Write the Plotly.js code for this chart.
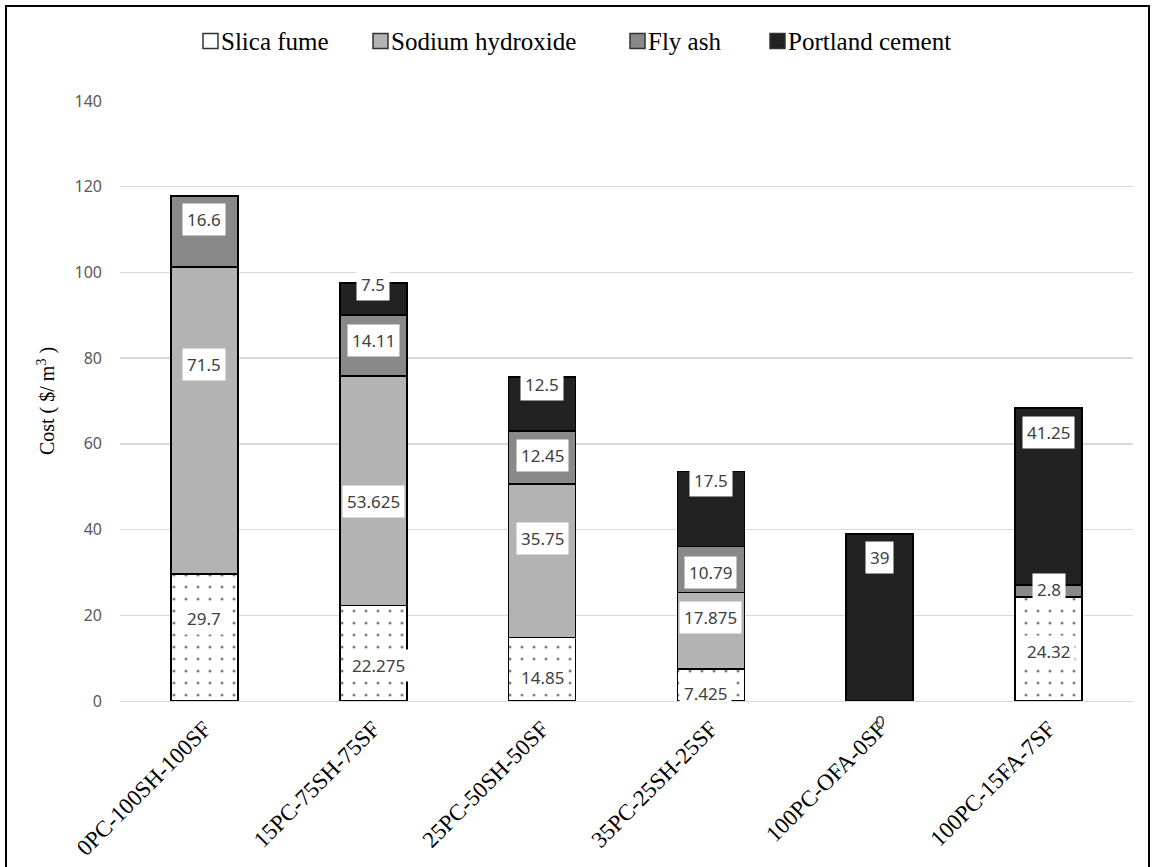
<!DOCTYPE html>
<html>
<head>
<meta charset="utf-8">
<script src="https://cdn.plot.ly/plotly-3.0.1.min.js"></script>
<style>
  html, body { margin: 0; padding: 0; background: #fff; overflow: hidden; }
  #chart { width: 1153px; height: 867px; }
  #frame { position: absolute; left: 5px; top: 5px; width: 1141px; height: 900px;
           border: 2px solid #000; pointer-events: none; }
</style>
</head>
<body>
<div id="chart"></div>
<div id="frame"></div>
<script>
// Mix designs (x categories)
const mixes = ['0PC-100SH-100SF', '15PC-75SH-75SF', '25PC-50SH-50SF',
               '35PC-25SH-25SF', '100PC-OFA-0SF', '100PC-15FA-7SF'];

// Cost of each ingredient per mix, $/m3
const silicaFume     = [29.7, 22.275, 14.85, 7.425, 0, 24.32];
const sodiumHydrox   = [71.5, 53.625, 35.75, 17.875, 0, 0];
const flyAsh         = [16.6, 14.11, 12.45, 10.79, 0, 2.8];
const portlandCement = [0, 7.5, 12.5, 17.5, 39, 41.25];

const seriesNames = ['Slica fume', 'Sodium hydroxide', 'Fly ash', 'Portland cement'];
const yTicks = [0, 20, 40, 60, 80, 100, 120, 140];

// Label nudges (pixels) from each segment's centre
const labelShiftY = [
  [19, -12, -8, -8, 0, -3],
  [56, -11, 22, 13, 0, 0],
  [12, 5, 2, -3, 0, 1],
  [0, 15, 20, 28, 60, 64]
];
const labelShiftX = [
  [0, 5, 0, -5, 0, 0],
  [0, 0, 0, 0, 0, 0],
  [0, 0, 0, 0, 0, 0],
  [0, 0, 0, 0, 0, 0]
];

const seriesValues = [silicaFume, sodiumHydrox, flyAsh, portlandCement];
const fills = ['#ffffff', '#b3b3b3', '#898989', '#222222'];

// Plot area geometry in pixels, used for the hand-placed legend
const W = 1153, H = 867, M = { l: 120, r: 20, t: 101, b: 166 };
const plotW = W - M.l - M.r, plotH = H - M.t - M.b;
const px2x = px => (px - M.l) / plotW;
const px2y = py => 1 + (M.t - py) / plotH;

const traces = seriesValues.map((vals, s) => {
  const marker = { color: fills[s], line: { color: '#000', width: 1.6 } };
  if (s === 0) {
    marker.pattern = { shape: '.', fgcolor: '#000', bgcolor: '#fff',
                       size: 12, solidity: 0.05, fillmode: 'overlay' };
  }
  return {
    type: 'bar', name: seriesNames[s], x: mixes, y: vals,
    marker: marker, hoverinfo: 'skip', showlegend: false
  };
});

// Boxed value labels
const annotations = [];
const base = mixes.map(() => 0);
seriesValues.forEach((vals, s) => {
  vals.forEach((v, i) => {
    if (v > 0) {
      annotations.push({
        x: mixes[i], y: base[i] + v / 2, xref: 'x', yref: 'y',
        text: String(v), showarrow: false,
        yshift: labelShiftY[s][i], xshift: labelShiftX[s][i],
        bgcolor: '#ffffff', borderpad: 4,
        font: { family: 'Noto Sans, Open Sans, sans-serif', size: 17, color: '#404040' }
      });
    }
    base[i] += v;
  });
});
// zero-valued label of the cement-only mix
annotations.push({
  x: mixes[4], y: 0, xref: 'x', yref: 'y', text: '0', showarrow: false,
  yshift: -20, xshift: 0,
  font: { family: 'Noto Sans, sans-serif', size: 17, color: '#404040' }
});

// Legend: key squares and names in one row above the plot
const legendKeyLeft = [203, 373, 630, 770];
const legendY = 41, keySize = 15;
const shapes = [];
seriesNames.forEach((name, s) => {
  const x0 = legendKeyLeft[s];
  shapes.push({
    type: 'rect', xref: 'paper', yref: 'paper',
    x0: px2x(x0), x1: px2x(x0 + keySize),
    y0: px2y(legendY + keySize / 2), y1: px2y(legendY - keySize / 2),
    fillcolor: fills[s], line: { color: '#333', width: 1.5 }
  });
  annotations.push({
    xref: 'paper', yref: 'paper', x: px2x(x0 + keySize + 1), y: px2y(legendY + 1),
    xanchor: 'left', yanchor: 'middle', text: name, showarrow: false,
    font: { family: 'Liberation Serif, Times New Roman, serif', size: 25, color: '#000' }
  });
});

const layout = {
  width: W, height: H,
  margin: M,
  paper_bgcolor: '#fff', plot_bgcolor: '#fff',
  barmode: 'stack', bargap: 0.603,
  showlegend: false,
  xaxis: {
    type: 'category', tickangle: -45, ticks: '', showgrid: false,
    showline: true, linecolor: '#d9d9d9', linewidth: 1.3,
    tickfont: { family: 'Liberation Serif, Times New Roman, serif', size: 23, color: '#000' },
    ticklabelstandoff: 4, fixedrange: true
  },
  yaxis: {
    range: [0, 140], tickvals: yTicks, ticktext: yTicks.map(String),
    showgrid: true, gridcolor: '#d9d9d9', gridwidth: 1.3,
    zeroline: false, showline: false, ticks: '',
    ticklabelstandoff: 17,
    tickfont: { family: 'Noto Sans, Open Sans, sans-serif', size: 16, color: '#595959' },
    title: { text: 'Cost ( $/ m<sup>3</sup> )', standoff: 14,
             font: { family: 'Liberation Serif, Times New Roman, serif', size: 20, color: '#000' } },
    fixedrange: true
  },
  shapes: shapes,
  annotations: annotations
};

Plotly.newPlot('chart', traces, layout, { displayModeBar: false, staticPlot: true });
</script>
</body>
</html>
